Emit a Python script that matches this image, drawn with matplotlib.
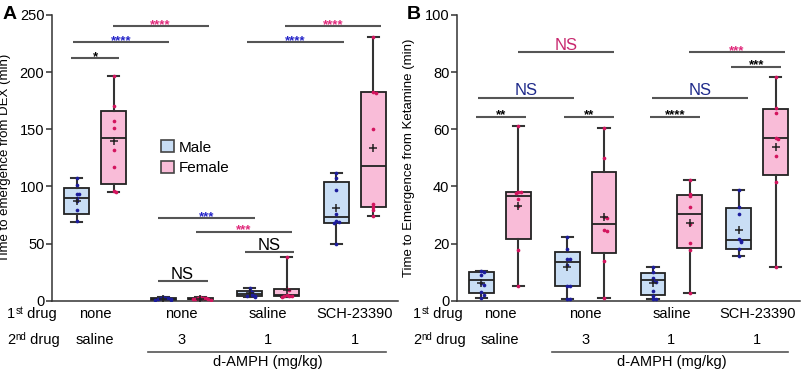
import numpy as np
import matplotlib
matplotlib.use("Agg")
import matplotlib.pyplot as plt
from matplotlib.patches import Patch
from matplotlib.lines import Line2D

plt.rcParams['font.family'] = ['Liberation Sans', 'DejaVu Sans']

# ---------------- data ----------------
drug1 = ["none", "none", "saline", "SCH-23390"]
drug2 = ["saline", "3", "1", "1"]

# panel A : DEX (min)  -> box stats per group (none/saline, none/3, saline/1, SCH/1)
a_male_lo = [69, 0.5, 3.5, 50]
a_male_q1 = [76, 1.0, 4.0, 68]
a_male_med = [90, 1.8, 5.5, 73]
a_male_q3 = [99, 2.6, 8.5, 104]
a_male_hi = [107, 3.5, 11.5, 112]
a_male_mean = [87, 1.8, 6.5, 81]
a_male_pts = [[107, 101, 93, 93, 90, 87, 79, 70],
              [3.5, 2.6, 2.2, 2.0, 1.8, 1.5, 1.0, 0.5],
              [11.5, 8.5, 7.5, 6, 5, 4, 4, 3.5],
              [112, 107, 96.5, 76, 70, 69, 68, 50]]

a_fem_lo = [95, 0.8, 3.5, 74]
a_fem_q1 = [102, 1.2, 4.0, 82]
a_fem_med = [142, 1.8, 5.0, 117.5]
a_fem_q3 = [166, 2.5, 10.0, 183]
a_fem_hi = [197, 3.0, 38, 231]
a_fem_mean = [139.5, 1.9, 9.5, 134]
a_fem_pts = [[197, 170, 157, 151, 132, 117, 96, 95],
             [3.0, 2.5, 2.2, 2.0, 1.8, 1.5, 1.2, 0.8],
             [38, 10.3, 9, 5, 4.5, 4, 4, 3.5],
             [231, 183, 182, 150, 85, 82, 79, 74]]

# panel B : Ketamine (min)
b_male_lo = [0.8, 0.5, 0.5, 15.6]
b_male_q1 = [2.6, 5.3, 2.0, 18.0]
b_male_med = [7.2, 13.7, 7.2, 21.2]
b_male_q3 = [9.9, 17.2, 9.6, 32.3]
b_male_hi = [10.4, 22.4, 11.7, 38.7]
b_male_mean = [6.1, 11.9, 6.3, 24.7]
b_male_pts = [[10.4, 10, 9, 6.1, 5.5, 2.9, 2.0, 0.8],
              [22.4, 18, 14.7, 14.5, 12.5, 5.3, 5.3, 0.5, 0.5],
              [11.7, 10.2, 8, 7, 6.5, 3.5, 1.5, 0.5, 0.5],
              [38.7, 32.9, 30.3, 21.5, 21, 20.5, 18, 15.6]]

b_fem_lo = [5.3, 0.8, 2.6, 11.9]
b_fem_q1 = [21.6, 16.6, 18.3, 44.0]
b_fem_med = [36.8, 26.7, 30.2, 57.0]
b_fem_q3 = [38.0, 45.0, 37.0, 67.1]
b_fem_hi = [61, 60.5, 42.2, 78.2]
b_fem_mean = [33, 29.2, 27.1, 53.7]
b_fem_pts = [[61, 38, 38, 37.8, 35.5, 33, 17.7, 5.3],
             [60.5, 50, 29.2, 28.8, 24.6, 24.3, 13.9, 0.8],
             [42.2, 37.5, 36.5, 32.9, 27, 20.1, 17.8, 2.6],
             [78.2, 67.5, 65.6, 56.8, 56.5, 50.8, 41.4, 11.9]]

# significance brackets: (x0, x1, y, text, colour)
a_sig = [(-0.28, 0.28, 212, "*", "black"),
         (-0.26, 0.85, 226, "****", "#2323c8"),
         (0.20, 1.31, 240, "****", "#e0287a"),
         (0.72, 1.85, 72, "***", "#2323c8"),
         (1.16, 2.28, 60, "***", "#e0287a"),
         (1.73, 2.30, 43, "NS", "black"),
         (0.72, 1.30, 17.5, "NS", "black"),
         (1.76, 2.87, 226, "****", "#2323c8"),
         (2.19, 3.30, 240, "****", "#e0287a")]
b_sig = [(-0.28, 0.30, 64.4, "**", "black"),
         (-0.25, 0.86, 71.1, "NS", "#1f2a8a"),
         (0.21, 1.33, 86.9, "NS", "#c8286e"),
         (0.75, 1.33, 64.4, "**", "black"),
         (1.75, 2.33, 64.4, "****", "black"),
         (1.77, 2.89, 71.1, "NS", "#1f2a8a"),
         (2.20, 3.32, 86.9, "***", "#e0287a"),
         (2.70, 3.28, 81.8, "***", "black")]

MALE_FILL, FEM_FILL = "#c9def5", "#f9bcd8"
MALE_DOT, FEM_DOT = "#1c1c9c", "#d3145e"
OFF, BW = 0.215, 0.29
H = 375.0

fig = plt.figure(figsize=(8.03, 3.75), dpi=100)
axA = fig.add_axes([52/803, 0.198, 346/803, 0.762])
axB = fig.add_axes([457/803, 0.198, 343/803, 0.762])


def spread(vals, tol):
    # small deterministic horizontal spread for points with close values
    xs = []
    for i, v in enumerate(vals):
        k = sum(1 for w in vals[:i] if abs(w - v) < tol)
        xs.append(0.03 * ((k + 1) // 2) * (1 if k % 2 else -1) if k else 0)
    return xs


def draw_boxes(ax, lo, q1, med, q3, hi, mean, pts, pos, fill, dot, tol):
    stats = [dict(whislo=lo[i], q1=q1[i], med=med[i], q3=q3[i], whishi=hi[i], fliers=[])
             for i in range(len(lo))]
    ax.bxp(stats, positions=pos, widths=BW, patch_artist=True, showfliers=False,
           boxprops=dict(facecolor=fill, edgecolor="#222222", linewidth=1.3),
           medianprops=dict(color="#222222", linewidth=1.3),
           whiskerprops=dict(color="#333333", linewidth=1.5),
           capprops=dict(color="#333333", linewidth=1.5), capwidths=0.13)
    for i, p in enumerate(pos):
        dx = spread(pts[i], tol)
        ax.scatter(np.array(dx) + p, pts[i], s=7, color=dot, zorder=4, linewidths=0)
        ax.scatter([p], [mean[i]], marker="+", s=40, color="#222222", linewidths=1.1, zorder=5)


def draw_sig(ax, sig):
    for x0, x1, y, t, c in sig:
        ax.plot([x0, x1], [y, y], color="#555555", lw=1.5, solid_capstyle="butt", clip_on=False)
        if t == "NS":
            ax.annotate(t, xy=((x0 + x1) / 2, y), xytext=(0, 1.5), textcoords="offset points",
                        ha="center", va="baseline", fontsize=12, color=c)
        else:
            ax.annotate(t, xy=((x0 + x1) / 2, y), xytext=(0, -1), textcoords="offset points",
                        ha="center", va="baseline", fontsize=9.5, color=c, fontweight="bold")


def fig_y(px):
    return 1 - px / H


def style(ax, ymax, step, ylabel, lab_x):
    ax.set_xlim(-0.5, 3.5)
    ax.set_ylim(0, ymax)
    ax.set_yticks(np.arange(0, ymax + 1, step))
    ax.set_xticks([])
    for s in ["top", "right"]:
        ax.spines[s].set_visible(False)
    for s in ["left", "bottom"]:
        ax.spines[s].set_color("#333333")
        ax.spines[s].set_linewidth(1.1)
    ax.tick_params(axis="y", labelsize=10.5, length=4, width=1.1, color="#333333", pad=1.5)
    ax.set_ylabel(ylabel, fontsize=9.5)
    ax.yaxis.set_label_coords(lab_x, 0.5)
    tr = ax.get_xaxis_transform()
    # convert pixel rows to axes fraction
    b, h = 0.198, 0.762
    for i in range(4):
        ax.text(i, (fig_y(318) - b) / h, drug1[i], transform=tr, ha="center", va="baseline",
                fontsize=10.5)
        ax.text(i, (fig_y(344) - b) / h, drug2[i], transform=tr, ha="center", va="baseline",
                fontsize=10.5)
    ax.add_line(Line2D([0.61, 3.36], [(fig_y(351.5) - b) / h] * 2, transform=tr, color="#555555",
                       lw=1.2, clip_on=False))
    ax.text(2.0, (fig_y(366) - b) / h, "d-AMPH (mg/kg)", transform=tr, ha="center",
            va="baseline", fontsize=10.5)


def row_label(x, y, num, sup):
    t1 = fig.text(x / 803, fig_y(y), num, ha="left", va="baseline", fontsize=10.5)
    t2 = plt.annotate(sup, xy=(1, 1), xycoords=t1, ha="left", va="top", fontsize=7,
                      xytext=(0.3, 0.6), textcoords="offset points", annotation_clip=False)
    plt.annotate(" drug", xy=(1, 0), xycoords=(t2, t1), ha="left", va="bottom", fontsize=10.5,
                 annotation_clip=False)


groups = np.arange(4)
draw_boxes(axA, a_male_lo, a_male_q1, a_male_med, a_male_q3, a_male_hi, a_male_mean,
           a_male_pts, groups - OFF, MALE_FILL, MALE_DOT, 2.5)
draw_boxes(axA, a_fem_lo, a_fem_q1, a_fem_med, a_fem_q3, a_fem_hi, a_fem_mean,
           a_fem_pts, groups + OFF, FEM_FILL, FEM_DOT, 2.5)
draw_boxes(axB, b_male_lo, b_male_q1, b_male_med, b_male_q3, b_male_hi, b_male_mean,
           b_male_pts, groups - OFF, MALE_FILL, MALE_DOT, 1.0)
draw_boxes(axB, b_fem_lo, b_fem_q1, b_fem_med, b_fem_q3, b_fem_hi, b_fem_mean,
           b_fem_pts, groups + OFF, FEM_FILL, FEM_DOT, 1.0)

style(axA, 250, 50, "Time to emergence from DEX (min)", -0.118)
style(axB, 100, 20, "Time to Emergence from Ketamine (min)", -0.122)
draw_sig(axA, a_sig)
draw_sig(axB, b_sig)

handles = [Patch(facecolor=MALE_FILL, edgecolor="#444444", lw=1.2, label="Male"),
           Patch(facecolor=FEM_FILL, edgecolor="#444444", lw=1.2, label="Female")]
axA.legend(handles=handles, loc="upper left", bbox_to_anchor=(0.275, 0.61), frameon=False,
           fontsize=11, handlelength=0.85, handleheight=0.85, handletextpad=0.35,
           labelspacing=0.4)

for x in [7, 413]:
    row_label(x, 318, "1", "st")
    row_label(x, 344, "2", "nd")

fig.text(3 / 803, 0.985, "A", fontsize=14, fontweight="bold", va="top", ha="left")
fig.text(407 / 803, 0.985, "B", fontsize=14, fontweight="bold", va="top", ha="left")

fig.savefig("out.png", dpi=100)
